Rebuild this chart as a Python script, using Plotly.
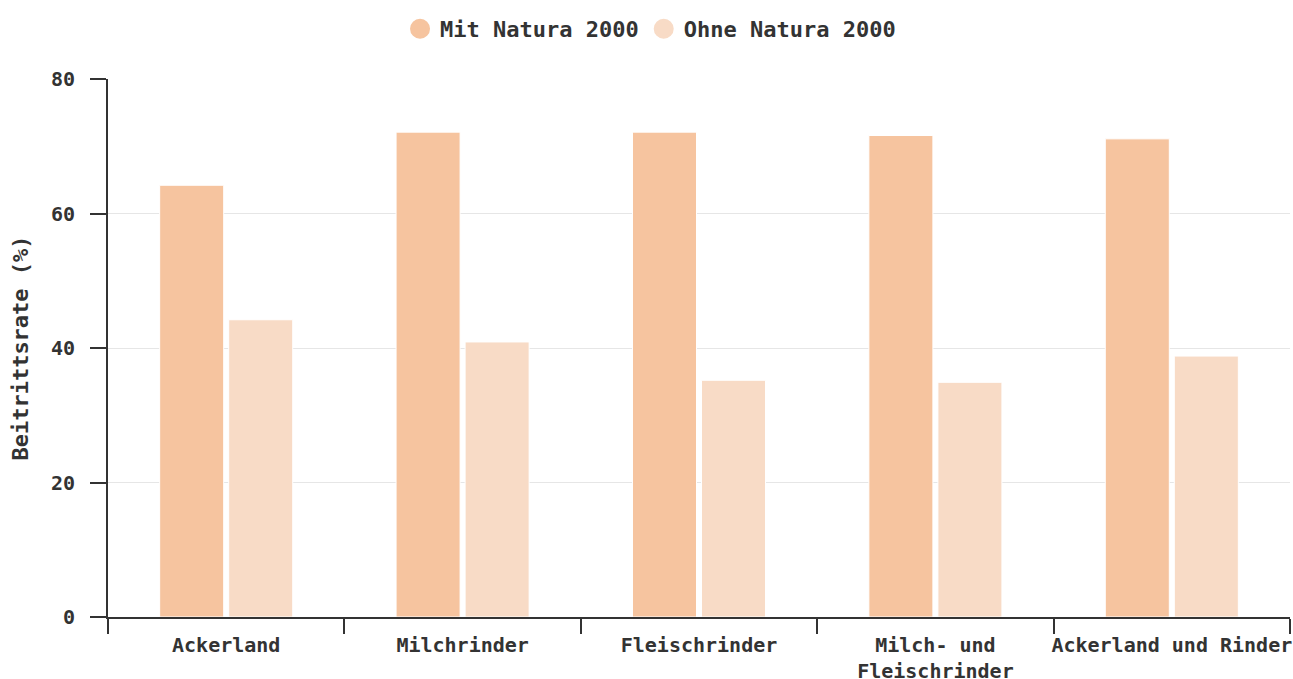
import plotly.graph_objects as go

categories = ["Ackerland", "Milchrinder", "Fleischrinder", "Milch- und<br>Fleischrinder", "Ackerland und Rinder"]
mit_natura = [64.2, 72.1, 72.1, 71.6, 71.1]
ohne_natura = [44.2, 40.9, 35.2, 34.9, 38.8]
series_names = ["Mit Natura 2000", "Ohne Natura 2000"]
colors = ["#F6C49F", "#F8DBC6"]
y_ticks = [0, 20, 40, 60, 80]

FONT = "DejaVu Sans Mono"
TXT = "#333333"

fig = go.Figure()
for name, vals, col in zip(series_names, [mit_natura, ohne_natura], colors):
    fig.add_trace(go.Bar(x=categories, y=vals, name=name, showlegend=False,
                         marker=dict(color=col, line=dict(color="white", width=1))))
for name, col in zip(series_names, colors):
    fig.add_trace(go.Scatter(x=[None], y=[None], mode="markers", name=name,
                             marker=dict(color=col, size=16, symbol="circle",
                                         line=dict(color=col, width=4))))

fig.update_layout(
    width=1293, height=679,
    margin=dict(l=108, r=3, t=79, b=62, autoexpand=False),
    paper_bgcolor="white", plot_bgcolor="white",
    barmode="group", bargap=0.416, bargroupgap=0.0725,
    font=dict(family=FONT, color=TXT, size=20, weight="bold"),
    legend=dict(orientation="h", x=0.459, xanchor="center", y=1.093, yanchor="middle",
                font=dict(family=FONT, size=22, color=TXT, weight="bold"),
                itemwidth=30, tracegroupgap=0, itemsizing="trace"),
)
fig.update_xaxes(
    type="category", tickson="boundaries", ticks="outside", ticklen=15, tickwidth=2,
    tickcolor=TXT, showline=True, linecolor=TXT, linewidth=2, showgrid=False,
    tickangle=0, automargin=False, ticklabelstandoff=9,
    tickfont=dict(family=FONT, size=20, color=TXT, weight="bold"),
)
fig.update_yaxes(
    range=[0, 80], tickvals=y_ticks, ticks="outside", ticklen=16, tickwidth=2,
    tickcolor=TXT, showline=True, linecolor=TXT, linewidth=2,
    showgrid=True, gridcolor="#e6e6e6", gridwidth=1, zeroline=False,
    ticklabelstandoff=11, automargin=False,
    tickfont=dict(family=FONT, size=20, color=TXT, weight="bold"),
    title=dict(text="Beitrittsrate (%)", standoff=16,
               font=dict(family=FONT, size=22, color=TXT, weight="bold")),
)

fig.write_html("out.html", config={"displayModeBar": False},
               post_script="document.body.style.margin='0px';")
